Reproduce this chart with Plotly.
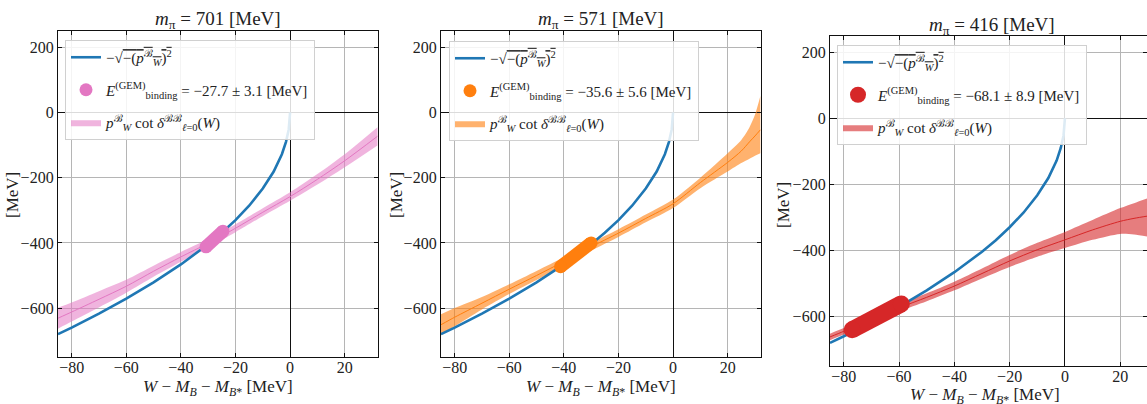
import plotly.graph_objects as go

# ---------------- data ----------------
# blue curve  -sqrt(-(p_W)^2)  (same in all panels)
BLUE_X = [-85, -80, -70, -60, -50, -40, -30, -25, -20, -15, -10, -6, -3, -1.5, -0.5, -0.1, 0]
BLUE_Y = [-680, -660, -617, -571, -521, -466, -404, -369, -330, -286, -233, -181, -128, -90, -52, -23, 0]

# panel 1  (m_pi = 701 MeV)  pink band
P1_X = [-85, -80, -70, -60, -50, -40, -30, -20, -10, 0, 10, 20, 32]
P1_MID = [-631, -612, -573, -533, -487, -443, -401, -355, -306, -258, -205, -148, -73]
P1_HI = [-599, -583, -548, -513, -470, -428, -388, -343, -294, -245, -189, -128, -45]
P1_LO = [-663, -641, -598, -553, -504, -458, -414, -367, -318, -271, -221, -168, -101]

# panel 2  (m_pi = 571 MeV)  orange band
P2_X = [-85, -80, -70, -60, -50, -40, -30, -20, -10, 0, 10, 20, 25, 28, 30, 32]
P2_MID = [-651, -628, -585, -542, -500, -457, -412, -370, -325, -280, -215, -153, -118, -90, -72, -53]
P2_HI = [-619, -600, -566, -527, -486, -444, -400, -358, -313, -267, -200, -125, -84, -45, -7, 51]
P2_LO = [-683, -656, -604, -557, -514, -470, -424, -382, -337, -293, -232, -181, -155, -142, -133, -125]

# panel 3  (m_pi = 416 MeV)  red band
P3_X = [-85, -80, -70, -60, -50, -40, -30, -20, -10, 0, 10, 20, 25, 30]
P3_MID = [-662, -645, -610, -574, -542, -508, -470, -432, -398, -368, -338, -312, -303, -296]
P3_HI = [-652, -635, -599, -563, -530, -495, -455, -414, -377, -344, -308, -272, -257, -242]
P3_LO = [-672, -655, -621, -585, -554, -521, -485, -450, -419, -393, -368, -350, -352, -358]

# binding energies (GEM)
M_PI = [701, 571, 416]
BIND_E = [-27.7, -35.6, -68.1]
BIND_ERR = [3.1, 5.6, 8.9]
BIND_Y = [[-412, -364], [-473, -400], [-640, -562]]

X_TICKS = [-80, -60, -40, -20, 0, 20]
Y_TICKS = [-600, -400, -200, 0, 200]

# ---------------- styling ----------------
W, H = 1147, 404
FONT = "Liberation Serif, Times New Roman, Times, serif"
COLORS = ["#e377c2", "#ff7f0e", "#d62728"]
FILLS = ["rgba(227,119,194,0.55)", "rgba(255,127,14,0.6)", "rgba(214,39,40,0.6)"]
BLOB_W = [13, 13, 17]

# panel boxes in pixels (left, right, top, bottom) and x ranges
BOXES = [(58, 378, 31, 357), (441, 760.7, 31, 357), (830, 1147, 35.7, 366)]
XR = [[-85, 32.2], [-85, 32.1], [-85, 29.7]]
YR = [[-750, 250], [-750, 250], [-750, 250]]
TITLE_POS = [(217.5, 20), (601, 20), (991.7, 26)]
XLAB_POS = [(218, 388), (601, 388), (985, 396)]
YLAB_POS = [(12, 195), (396, 195), (783, 205)]
LEG_POS = [(65, 40), (449, 41), (837, 45)]

bands = [(P1_X, P1_MID, P1_HI, P1_LO), (P2_X, P2_MID, P2_HI, P2_LO), (P3_X, P3_MID, P3_HI, P3_LO)]

blue_label = ("−√<span style='text-decoration:overline'>−(<i>p</i><sup>ℬ</sup><sub><i>W</i></sub>)"
              "<sup>2</sup></span>")
band_label = "<i>p</i><sup>ℬ</sup><sub><i>W</i></sub> cot <i>δ</i><sup>ℬℬ</sup><sub><i>ℓ</i>=0</sub>(<i>W</i>)"

fig = go.Figure()
layout = dict(
    width=W, height=H, margin=dict(l=0, r=0, t=0, b=0),
    paper_bgcolor="white", plot_bgcolor="white",
    font=dict(family=FONT, size=16, color="#222"),
    annotations=[],
)

for i in range(3):
    sfx = "" if i == 0 else str(i + 1)
    xa, ya = "x" + sfx, "y" + sfx
    leg = "legend" + sfx
    X, MID, HI, LO = bands[i]
    common = dict(xaxis=xa, yaxis=ya, legend=leg, hoverinfo="skip")

    fig.add_trace(go.Scatter(x=X, y=HI, mode="lines", line=dict(width=0, shape="spline", smoothing=0.8),
                             showlegend=False, **common))
    fig.add_trace(go.Scatter(x=X, y=LO, mode="lines", line=dict(width=0, shape="spline", smoothing=0.8),
                             fill="tonexty", fillcolor=FILLS[i], name=band_label, legendrank=3,
                             legendgroup=f"band{i}", **common))
    fig.add_trace(go.Scatter(x=X, y=MID, mode="lines",
                             line=dict(color=COLORS[i], width=1, shape="spline", smoothing=0.8),
                             showlegend=False, **common))
    fig.add_trace(go.Scatter(x=BLUE_X, y=BLUE_Y, mode="lines", line=dict(color="#1f77b4", width=2.6),
                             name=blue_label, legendrank=1, legendgroup=f"blue{i}", **common))
    bx = [BIND_E[i] - BIND_ERR[i], BIND_E[i] + BIND_ERR[i]]
    fig.add_trace(go.Scatter(x=bx, y=BIND_Y[i], mode="lines",
                             line=dict(color=COLORS[i], width=BLOB_W[i]), showlegend=False, **common))
    fig.add_trace(go.Scatter(x=bx, y=BIND_Y[i], mode="markers",
                             marker=dict(color=COLORS[i], size=BLOB_W[i]),
                             name=(f"<i>E</i><sup>(GEM)</sup><sub>binding</sub> = −{abs(BIND_E[i]):.1f} ± "
                                   f"{BIND_ERR[i]:.1f} [MeV]"),
                             legendrank=2, legendgroup=f"blob{i}", **common))

    l, r, t, b = BOXES[i]
    axis_common = dict(
        showgrid=True, gridcolor="#b5b5b5", gridwidth=1,
        zeroline=True, zerolinecolor="#111", zerolinewidth=1.3,
        showline=True, linecolor="#111", linewidth=1.3, mirror="ticks",
        ticks="inside", ticklen=4, tickcolor="#111",
        tickfont=dict(family=FONT, size=16, color="#222"),
    )
    layout["xaxis" + sfx] = dict(domain=[l / W, min(r / W, 1.0)], range=XR[i], tickvals=X_TICKS,
                                 anchor=ya, ticklabelstandoff=-4, **axis_common)
    layout["yaxis" + sfx] = dict(domain=[1 - b / H, 1 - t / H], range=YR[i], tickvals=Y_TICKS,
                                 anchor=xa, **axis_common)
    lx, ly = LEG_POS[i]
    layout[leg] = dict(x=lx / W, y=1 - ly / H, xanchor="left", yanchor="top",
                       bgcolor="rgba(255,255,255,0.85)", bordercolor="#d0d0d0", borderwidth=1,
                       font=dict(family=FONT, size=15, color="#222"), tracegroupgap=10,
                       itemwidth=30)

    tx, ty = TITLE_POS[i]
    layout["annotations"].append(dict(
        text=f"<i>m</i><sub>π</sub> = {M_PI[i]} [MeV]", x=tx / W, y=1 - ty / H,
        xref="paper", yref="paper", showarrow=False, xanchor="center", yanchor="middle",
        font=dict(family=FONT, size=19, color="#222")))
    xx, xy = XLAB_POS[i]
    layout["annotations"].append(dict(
        text="<i>W</i> − <i>M</i><sub><i>B</i></sub> − <i>M</i><sub><i>B</i>*</sub> [MeV]",
        x=xx / W, y=1 - xy / H, xref="paper", yref="paper", showarrow=False,
        xanchor="center", yanchor="middle", font=dict(family=FONT, size=17, color="#222")))
    yx, yy = YLAB_POS[i]
    layout["annotations"].append(dict(
        text="[MeV]", x=yx / W, y=1 - yy / H, xref="paper", yref="paper", showarrow=False,
        textangle=-90, xanchor="center", yanchor="middle",
        font=dict(family=FONT, size=17, color="#222")))

fig.update_layout(**layout)
fig.write_html("out.html", config={"displayModeBar": False},
               post_script="document.body.style.margin='0';document.body.style.overflow='hidden';")
